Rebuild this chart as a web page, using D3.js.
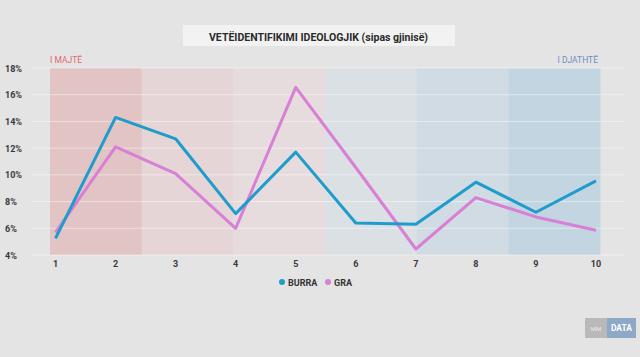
<!DOCTYPE html>
<html><head><meta charset="utf-8">
<script src="https://cdn.jsdelivr.net/npm/d3@7"></script>
<style>
html,body{margin:0;padding:0;background:#e4e4e4;}
svg{display:block;font-family:"Roboto","Open Sans",sans-serif;}
</style></head>
<body>
<svg id="c" width="640" height="357"></svg>
<script>
const categories = ["1","2","3","4","5","6","7","8","9","10"];
const burra = [5.25,14.3,12.7,7.1,11.7,6.4,6.3,9.45,7.2,9.55];
const gra   = [5.7,12.1,10.1,6.0,16.55,10.55,4.45,8.3,6.85,5.85];
const yTicks = [4,6,8,10,12,14,16,18];
const bandColors = ["#e2c4c5","#e5d5d6","#e7dcdd","#dbe0e4","#d0dbe3","#c2d5e1"];
const title = "VETËIDENTIFIKIMI IDEOLOGJIK (sipas gjinisë)";

const svg = d3.select("#c");
svg.append("rect").attr("width",640).attr("height",357).attr("fill","#e4e4e4");

const x = d3.scalePoint().domain(categories).range([55.5,596]);
const y = d3.scaleLinear().domain([4,18]).range([255,68]);
const bandX = d3.scaleBand().domain(d3.range(6)).range([50,600]).paddingInner(0);

// bands
svg.append("g").selectAll("rect").data(bandColors).join("rect")
  .attr("x",(d,i)=>bandX(i)).attr("width",bandX.bandwidth()+0.5)
  .attr("y",y(18)).attr("height",y(4)-y(18)).attr("fill",d=>d);

// grid
svg.append("g").selectAll("line").data(yTicks).join("line")
  .attr("x1",32).attr("x2",624).attr("y1",d=>y(d)).attr("y2",d=>y(d))
  .attr("stroke","#ffffff").attr("stroke-opacity",0.45).attr("stroke-width",1);

// y labels
svg.append("g").selectAll("text").data(yTicks).join("text")
  .attr("x",5).attr("y",d=>y(d)+3.5).attr("font-size",9).attr("font-weight",700)
  .attr("fill","#3a3a3a").text(d=>d+"%");

// x labels
svg.append("g").selectAll("text").data(categories).join("text")
  .attr("x",d=>x(d)).attr("y",267).attr("text-anchor","middle")
  .attr("font-size",9).attr("font-weight",700).attr("fill","#3a3a3a").text(d=>d);

// side labels
svg.append("text").attr("x",50).attr("y",63).attr("font-size",8.5).attr("fill","#e06a6e").text("I MAJTË");
svg.append("text").attr("x",598).attr("y",63).attr("text-anchor","end").attr("font-size",8.5).attr("fill","#6f8fc0").text("I DJATHTË");

// title
svg.append("rect").attr("x",183).attr("y",25).attr("width",272).attr("height",21).attr("fill","#f2f2f2");
svg.append("text").attr("x",209).attr("y",40.5)
  .attr("font-size",11).attr("font-weight",700).attr("fill","#2a2a2a")
  .attr("textLength",219).attr("lengthAdjust","spacingAndGlyphs").text(title);

// lines
const line = d3.line().x((d,i)=>x(categories[i])).y(d=>y(d));
svg.append("path").datum(gra).attr("d",line).attr("fill","none")
  .attr("stroke","#d87fd6").attr("stroke-width",3).attr("stroke-linejoin","round");
svg.append("path").datum(burra).attr("d",line).attr("fill","none")
  .attr("stroke","#1e9ccb").attr("stroke-width",3).attr("stroke-linejoin","round");

// legend
const leg = svg.append("g").attr("font-size",9).attr("font-weight",700).attr("fill","#333");
leg.append("circle").attr("cx",282).attr("cy",282).attr("r",3).attr("fill","#1e9ccb");
leg.append("text").attr("x",288).attr("y",285.5).text("BURRA");
leg.append("circle").attr("cx",328).attr("cy",282).attr("r",3).attr("fill","#d87fd6");
leg.append("text").attr("x",334).attr("y",285.5).text("GRA");

// logo
svg.append("rect").attr("x",585).attr("y",318).attr("width",22).attr("height",20).attr("fill","#b9b9b9");
svg.append("text").attr("x",596).attr("y",331).attr("text-anchor","middle").attr("font-size",6).attr("fill","#eee").text("MM");
svg.append("rect").attr("x",607).attr("y",318).attr("width",29).attr("height",20).attr("fill","#8ea8c8");
svg.append("text").attr("x",621.5).attr("y",331).attr("text-anchor","middle").attr("font-size",8.5).attr("font-weight",700).attr("fill","#fff").text("DATA");
</script>
</body></html>
